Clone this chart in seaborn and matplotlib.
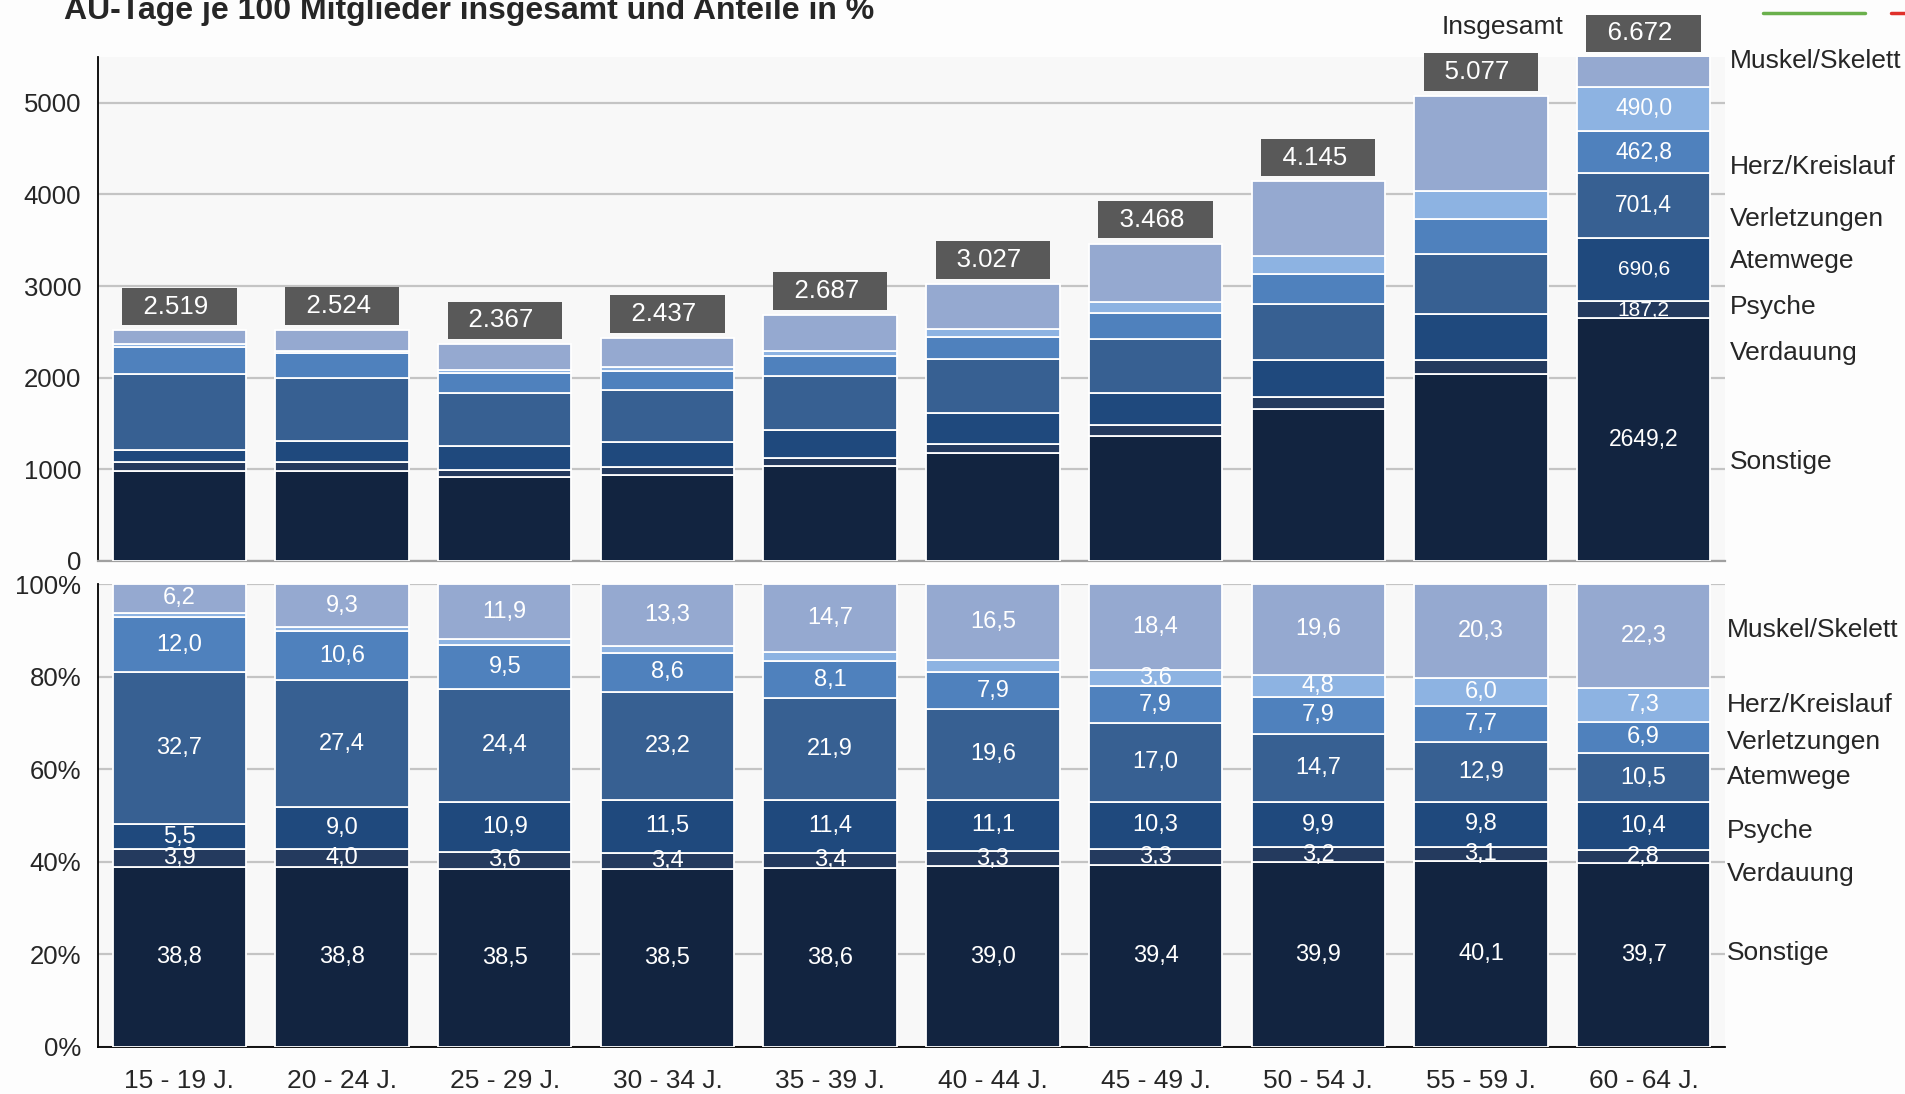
import numpy as np
import pandas as pd
import matplotlib
matplotlib.use("Agg")
import matplotlib.pyplot as plt
import seaborn as sns
from matplotlib.lines import Line2D

# ---------------- data ----------------
age_groups = ["15 - 19 J.", "20 - 24 J.", "25 - 29 J.", "30 - 34 J.", "35 - 39 J.",
              "40 - 44 J.", "45 - 49 J.", "50 - 54 J.", "55 - 59 J.", "60 - 64 J."]
totals = [2519, 2524, 2367, 2437, 2687, 3027, 3468, 4145, 5077, 6672]

# shares in % (stacked bottom -> top)
sonstige = [38.8, 38.8, 38.5, 38.5, 38.6, 39.0, 39.4, 39.9, 40.1, 39.7]
verdauung = [3.9, 4.0, 3.6, 3.4, 3.4, 3.3, 3.3, 3.2, 3.1, 2.8]
psyche = [5.5, 9.0, 10.9, 11.5, 11.4, 11.1, 10.3, 9.9, 9.8, 10.4]
atemwege = [32.7, 27.4, 24.4, 23.2, 21.9, 19.6, 17.0, 14.7, 12.9, 10.5]
verletzungen = [12.0, 10.6, 9.5, 8.6, 8.1, 7.9, 7.9, 7.9, 7.7, 6.9]
herz_kreislauf = [0.9, 0.9, 1.2, 1.5, 1.9, 2.6, 3.6, 4.8, 6.0, 7.3]
muskel_skelett = [6.2, 9.3, 11.9, 13.3, 14.7, 16.5, 18.4, 19.6, 20.3, 22.3]

categories = ["Sonstige", "Verdauung", "Psyche", "Atemwege",
              "Verletzungen", "Herz/Kreislauf", "Muskel/Skelett"]
shares = [sonstige, verdauung, psyche, atemwege, verletzungen, herz_kreislauf, muskel_skelett]

# AU-days of the oldest group, as printed (Muskel/Skelett not printed)
last_group_days = [2649.2, 187.2, 690.6, 701.4, 462.8, 490.0, None]

colors = ["#122440", "#243a5e", "#1f497d", "#376092", "#4f81bd", "#8db3e2", "#95a9d0"]

# ---------------- style ----------------
sns.set_theme(style="white")
plt.rcParams["font.family"] = ["Liberation Sans", "DejaVu Sans"]

W, H = 1905, 1094
fig = plt.figure(figsize=(W / 100, H / 100), dpi=100, facecolor="#fdfdfd")

left, right = 98 / W, 1725 / W
ax_top = fig.add_axes([left, 1 - 561 / H, right - left, (561 - 57) / H])
ax_bot = fig.add_axes([left, 1 - 1047 / H, right - left, (1047 - 584) / H])

n = len(age_groups)
tot = np.array(totals, dtype=float)
TOP_MAX = 5500

def fmt(v):
    return f"{v:.1f}".replace(".", ",")

# ---------------- top panel: AU days ----------------
bottom = np.zeros(n)
for k, (name, vals, col) in enumerate(zip(categories, shares, colors)):
    days = np.array(vals) / 100.0 * tot
    sns.barplot(x=age_groups, y=days, bottom=bottom.copy(), color=col, saturation=1,
                width=0.82, edgecolor="white", linewidth=1.3, ax=ax_top, zorder=3)
    lab = last_group_days[k]
    if lab is not None:
        fs = 15 if k in (1, 2) else 16.5
        ax_top.text(n - 1, bottom[-1] + days[-1] / 2, fmt(lab), ha="center", va="center",
                    color="white", fontsize=fs, zorder=5)
    bottom += days

ax_top.set_xlim(-0.5, n - 0.5)
ax_top.set_ylim(0, TOP_MAX)
ax_top.set_yticks(np.arange(0, 5001, 1000))
ax_top.set_yticklabels([str(v) for v in range(0, 5001, 1000)])
ax_top.set_xticks(range(n))
ax_top.set_xticklabels([])
ax_top.set_xticks(np.arange(-0.5, n, 1), minor=True)
ax_top.tick_params(axis="x", which="major", length=0)
ax_top.tick_params(axis="x", which="minor", direction="in", length=7, color="#a0a0a0", width=1.3)
ax_top.tick_params(axis="y", direction="out", length=6, color="black", width=1.3,
                   labelsize=18.5, pad=6)
ax_top.set_xlabel("")
ax_top.set_ylabel("")
ax_top.set_facecolor("#f8f8f8")
ax_top.set_axisbelow(True)
ax_top.yaxis.grid(True, color="#c4c4c4", lw=1.6)
ax_top.xaxis.grid(False)
for s in ("top", "right"):
    ax_top.spines[s].set_visible(False)
ax_top.spines["left"].set_color("black")
ax_top.spines["left"].set_linewidth(1.3)
ax_top.spines["bottom"].set_color("#a0a0a0")
ax_top.spines["bottom"].set_linewidth(1.6)

# total boxes
for i, t in enumerate(totals):
    txt = "  " + f"{t:,}".replace(",", ".") + "   "
    ax_top.annotate(txt, xy=(i, min(t, TOP_MAX)), xytext=(0, 17), textcoords="offset points",
                    ha="center", va="center", color="white", fontsize=18.6,
                    bbox=dict(boxstyle="square,pad=0.26", fc="#595959", ec="none"),
                    annotation_clip=False, zorder=6)
fig.text(1442 / W, 1 - 27 / H, "Insgesamt", fontsize=19, ha="left", va="center")

# ---------------- bottom panel: shares ----------------
bottom = np.zeros(n)
for k, (name, vals, col) in enumerate(zip(categories, shares, colors)):
    v = np.array(vals)
    sns.barplot(x=age_groups, y=v, bottom=bottom.copy(), color=col, saturation=1,
                width=0.82, edgecolor="white", linewidth=1.3, ax=ax_bot, zorder=3)
    for i in range(n):
        if name == "Herz/Kreislauf" and v[i] < 3.5:
            continue
        ax_bot.text(i, bottom[i] + v[i] / 2, fmt(v[i]), ha="center", va="center",
                    color="white", fontsize=17, zorder=5)
    bottom += v

ax_bot.set_xlim(-0.5, n - 0.5)
ax_bot.set_ylim(0, 100)
ax_bot.set_yticks(np.arange(0, 101, 20))
ax_bot.set_yticklabels([f"{v}%" for v in range(0, 101, 20)])
ax_bot.set_xticks(range(n))
ax_bot.set_xticklabels(age_groups)
ax_bot.set_xticks(np.arange(-0.5, n, 1), minor=True)
ax_bot.tick_params(axis="x", which="major", length=0, labelsize=19, pad=16)
ax_bot.tick_params(axis="x", which="minor", direction="out", length=8, color="black", width=1.3)
ax_bot.tick_params(axis="y", direction="out", length=6, color="black", width=1.3,
                   labelsize=18.5, pad=6)
ax_bot.set_xlabel("")
ax_bot.set_ylabel("")
ax_bot.set_facecolor("#f8f8f8")
ax_bot.set_axisbelow(True)
ax_bot.yaxis.grid(True, color="#c4c4c4", lw=1.6)
ax_bot.xaxis.grid(False)
for s in ("top", "right"):
    ax_bot.spines[s].set_visible(False)
for s in ("left", "bottom"):
    ax_bot.spines[s].set_color("black")
    ax_bot.spines[s].set_linewidth(1.3)

# ---------------- category labels on the right ----------------
top_label_y = [0.197, 0.413, 0.504, 0.595, 0.679, 0.782, 0.9925]
bot_label_y = [0.202, 0.373, 0.467, 0.583, 0.659, 0.738, 0.900]
for name, yt, yb in zip(categories, top_label_y, bot_label_y):
    ax_top.text(1.003, yt, name, transform=ax_top.transAxes, fontsize=19,
                ha="left", va="center", clip_on=False)
    ax_bot.text(1.001, yb, name, transform=ax_bot.transAxes, fontsize=19,
                ha="left", va="center", clip_on=False)

# ---------------- title and logo hint ----------------
fig.text(64 / W, 1 - 19.5 / H, "AU-Tage je 100 Mitglieder insgesamt und Anteile in %",
         fontsize=23, fontweight="bold", ha="left", va="baseline")
fig.add_artist(Line2D([1763 / W, 1865 / W], [1 - 13 / H] * 2, color="#6ab04c", lw=2.5,
                      transform=fig.transFigure))
fig.add_artist(Line2D([1891 / W, 1.0], [1 - 13 / H] * 2, color="#e0302a", lw=2.5,
                      transform=fig.transFigure))

fig.savefig("out.png", dpi=100, facecolor=fig.get_facecolor())
